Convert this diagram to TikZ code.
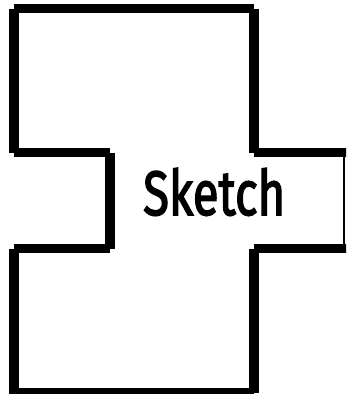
\documentclass[tikz,border=0pt]{standalone}
\usepackage{fontspec}
\newfontfamily\skfont{Fira Sans}[BoldFont={Fira Sans}, BoldFeatures={FakeBold=2.6}]
\tikzset{
  wall/.style={line width=9.2pt, line cap=butt, black},
  thinwall/.style={line width=1.6pt, line cap=butt, black},
  label/.style={inner sep=0pt, anchor=base west}
}
\begin{document}
\begin{tikzpicture}[x=1pt,y=-1pt]
\clip (0,0) rectangle (346,394);
\useasboundingbox (0,0) rectangle (346,394);
% upper block
\draw[wall] (14,8.7) -- (254,8.7);
\draw[wall] (14,9.3) -- (14,153.3);
\draw[wall] (254,9.3) -- (254,153.3);
\draw[wall] (14,152.8) -- (110,152.8);
\draw[wall] (254,152.8) -- (350,152.8);
% middle arms
\draw[wall] (110,153.3) -- (110,249);
\draw[thinwall] (344.2,157) -- (344.2,244);
% lower block
\draw[wall] (14,248.7) -- (110,248.7);
\draw[wall] (254,248.7) -- (350,248.7);
\draw[wall] (14,249.3) -- (14,394);
\draw[wall] (254,249.3) -- (254,392.8);
\draw[wall] (14,392.8) -- (254,392.8);
% text
\node[label] (t) at (143,215) {\resizebox{142pt}{47pt}{\skfont\bfseries Sketch}};
\end{tikzpicture}
\end{document}
